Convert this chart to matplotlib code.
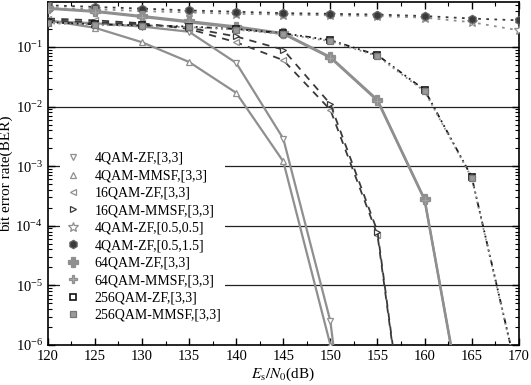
import matplotlib
matplotlib.use('Agg')
import matplotlib.pyplot as plt
import numpy as np

plt.rcParams['font.family'] = ['Liberation Serif', 'DejaVu Serif']
plt.rcParams['mathtext.fontset'] = 'stix'

# SNR grid (dB)
snr = [120, 125, 130, 135, 140, 145, 150, 155, 160, 165, 170]

# BER values (tiny tail values run off the bottom)
ber_4qam_zf_33 = [0.27, 0.25, 0.22, 0.18, 0.054, 2.9e-3, 2.5e-6, 1e-12]
ber_4qam_mmsf_33 = [0.28, 0.21, 0.12, 0.056, 0.017, 1.2e-3, 1e-6, 1e-13]
ber_16qam_zf_33 = [0.30, 0.28, 0.25, 0.20, 0.12, 0.060, 0.0088, 7e-5, 1e-10]
ber_16qam_mmsf_33 = [0.28, 0.26, 0.24, 0.21, 0.15, 0.090, 0.011, 8e-5, 1e-10]
ber_4qam_zf_0505 = [0.45, 0.43, 0.40, 0.38, 0.36, 0.35, 0.34, 0.33, 0.31, 0.26, 0.19]
ber_4qam_zf_0515 = [0.50, 0.47, 0.44, 0.41, 0.39, 0.37, 0.36, 0.35, 0.33, 0.30, 0.28]
ber_64qam_zf_33 = [0.45, 0.40, 0.33, 0.27, 0.22, 0.17, 0.068, 0.013, 2.8e-4, 1.2e-8]
ber_64qam_mmsf_33 = [0.44, 0.39, 0.32, 0.26, 0.21, 0.165, 0.066, 0.0125, 2.7e-4, 1.1e-8]
ber_256qam_zf_33 = [0.26, 0.24, 0.23, 0.22, 0.20, 0.17, 0.13, 0.073, 0.019, 6.6e-4, 2.5e-7]
ber_256qam_mmsf_33 = [0.25, 0.235, 0.225, 0.215, 0.195, 0.165, 0.125, 0.070, 0.018, 6.4e-4, 2.4e-7]

labels = ['4QAM-ZF,[3,3]', '4QAM-MMSF,[3,3]', '16QAM-ZF,[3,3]', '16QAM-MMSF,[3,3]',
          '4QAM-ZF,[0.5,0.5]', '4QAM-ZF,[0.5,1.5]', '64QAM-ZF,[3,3]', '64QAM-MMSF,[3,3]',
          '256QAM-ZF,[3,3]', '256QAM-MMSF,[3,3]']

gray = '#8f8f8f'
dark = '#3a3a3a'

fig = plt.figure(figsize=(5.31, 3.85), dpi=100)
ax = fig.add_axes([0.090, 0.104, 0.887, 0.891])

# horizontal decade lines
for y in [1e-1, 1e-2, 1e-3, 1e-4, 1e-5]:
    ax.axhline(y, color='#222222', lw=0.9, zorder=1)

def curve(vals, **kw):
    x = snr[:len(vals)]
    return ax.plot(x, vals, zorder=3, **kw)[0]

hs = []
hs.append(curve(ber_4qam_zf_33, color=gray, lw=1.6, ls='-', marker='v', ms=5,
                mfc='white', mec=gray, mew=0.9))
hs.append(curve(ber_4qam_mmsf_33, color=gray, lw=1.6, ls='-', marker='^', ms=5,
                mfc='white', mec=gray, mew=0.9))
hs.append(curve(ber_16qam_zf_33, color=dark, lw=1.3, ls=(0, (4, 3.5)), marker='<', ms=5,
                mfc='white', mec=gray, mew=0.9))
hs.append(curve(ber_16qam_mmsf_33, color=dark, lw=1.3, ls=(0, (4, 3.5)), marker='>', ms=5,
                mfc='white', mec=dark, mew=0.9))
hs.append(curve(ber_4qam_zf_0505, color=gray, lw=1.3, ls=(0, (1.5, 3)), marker='*', ms=7,
                mfc='white', mec=gray, mew=0.9))
hs.append(curve(ber_4qam_zf_0515, color=dark, lw=1.3, ls=(0, (1.5, 3)), marker='h', ms=6,
                mfc=dark, mec='#666666', mew=0.9))
hs.append(curve(ber_64qam_zf_33, color=gray, lw=1.7, ls='-', marker='P', ms=7,
                mfc=gray, mec=gray, mew=0.9))
hs.append(curve(ber_64qam_mmsf_33, color=gray, lw=1.7, ls='-', marker='P', ms=6,
                mfc='#a8a8a8', mec=gray, mew=0.9))
hs.append(curve(ber_256qam_zf_33, color='#1a1a1a', lw=1.3, ls=(0, (3, 2, 1, 2, 1, 2)),
                marker='s', ms=5, mfc='white', mec='#111111', mew=1.2))
hs.append(curve(ber_256qam_mmsf_33, color=gray, lw=1.3, ls=(0, (1, 2)),
                marker='s', ms=5, mfc='#9a9a9a', mec='#777777', mew=0.9))

ax.set_yscale('log')
ax.set_xlim(120, 170)
ax.set_ylim(1e-6, 0.57)
ax.set_xticks(np.arange(120, 171, 5))
ax.set_xticks(np.arange(122.5, 170, 5), minor=True)
ax.set_yticks([1e-6, 1e-5, 1e-4, 1e-3, 1e-2, 1e-1])
ax.tick_params(which='both', direction='in', top=True, right=True, labelsize=10.5)
ax.tick_params(which='major', length=5, width=1.0)
ax.tick_params(which='minor', length=3, width=0.8)
for s in ax.spines.values():
    s.set_linewidth(1.2)

ax.set_xlabel(r'$E_\mathrm{s}/N_0$(dB)', fontsize=11, labelpad=2)
ax.set_ylabel('bit error rate(BER)', fontsize=11, labelpad=2)

leg = ax.legend(hs, labels, loc='lower left', bbox_to_anchor=(0.025, 0.055),
                frameon=True, fontsize=10, handlelength=1.4, handletextpad=0.8,
                labelspacing=0.32, borderpad=0.3, borderaxespad=0.0)
leg.get_frame().set_facecolor('white')
leg.get_frame().set_edgecolor('none')
leg.get_frame().set_alpha(1.0)
for line in leg.get_lines():
    line.set_linestyle('none')
leg.set_zorder(5)

fig.savefig('out.png', dpi=100)
